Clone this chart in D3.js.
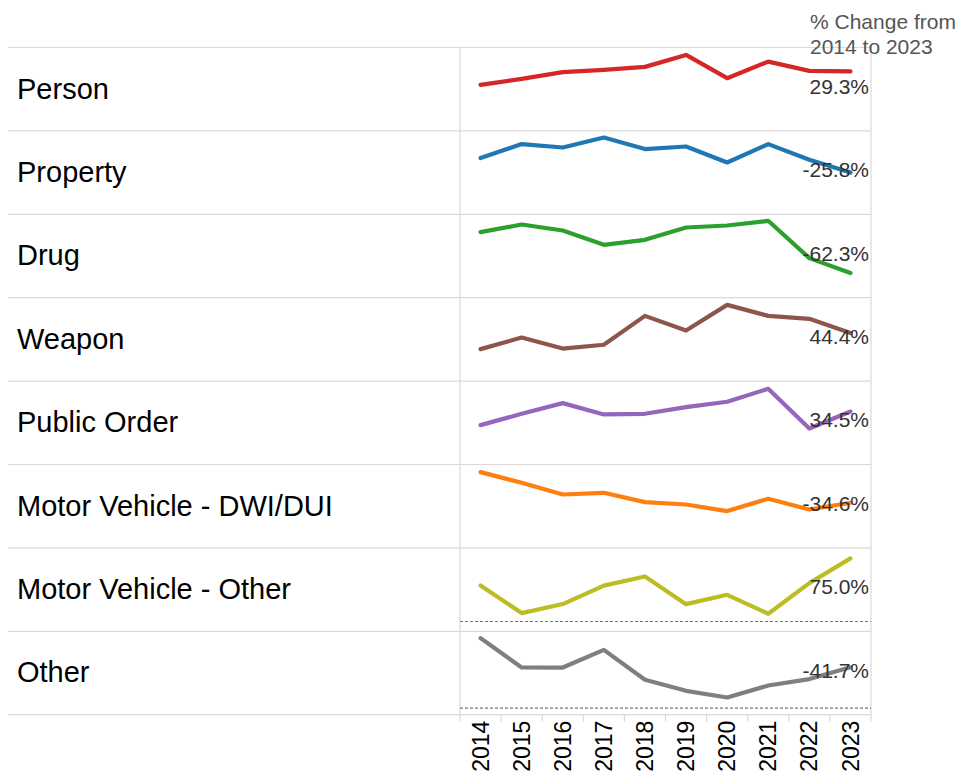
<!DOCTYPE html>
<html>
<head>
<meta charset="utf-8">
<script src="https://d3js.org/d3.v7.min.js"></script>
<style>
body { margin: 0; background: #fff; }
text { font-family: Arial, "Liberation Sans", sans-serif; }
</style>
</head>
<body>
<script>
//data
var years = [2014, 2015, 2016, 2017, 2018, 2019, 2020, 2021, 2022, 2023];

var categories = ["Person", "Property", "Drug", "Weapon", "Public Order",
    "Motor Vehicle - DWI/DUI", "Motor Vehicle - Other", "Other"];

var person      = [11030, 12470, 14080, 14630, 15350, 18220, 12640, 16620, 14390, 14262];
var property    = [26950, 33670, 32040, 36830, 31270, 32520, 24840, 33670, 26140, 19997];
var drug        = [23600, 26330, 24170, 19030, 20830, 25250, 25970, 27660, 14240, 8897];
var weapon      = [2060, 2720, 2090, 2310, 3960, 3120, 4590, 3960, 3790, 2975];
var publicOrder = [4720, 6080, 7360, 6000, 6080, 6880, 7520, 9080, 4320, 6348];
var dwi         = [11050, 9720, 8260, 8470, 7310, 7010, 6190, 7730, 6390, 7227];
var mvOther     = [588, 137, 284, 585, 734, 283, 435, 126, 626, 1029];
var other       = [7290, 4230, 4225, 6070, 2950, 1800, 1100, 2350, 3020, 4250];

var seriesValues = [person, property, drug, weapon, publicOrder, dwi, mvOther, other];

//independent axis range for every row
var axisDomains = [[0, 20000], [0, 40000], [0, 30000], [230, 5000],
    [0, 10000], [1600, 12000], [-160, 1200], [-690, 8000]];

var colors = ["#d62728", "#1f77b4", "#2ca02c", "#8c564b",
    "#9467bd", "#ff7f0e", "#bcbd22", "#7f7f7f"];

//layout
var width = 956, height = 773;
var top0 = 47.5, rowH = 83.4;
var leftEdge = 8, paneLeft = 460, paneRight = 871;
var gridColor = "#d9d9d9";
var bottom = top0 + rowH * categories.length;

var svg = d3.select("body")
    .append("svg")
    .attr("width", width)
    .attr("height", height);

var xScale = d3.scaleBand()
    .domain(years)
    .range([paneLeft, paneRight]);

//row separators
svg.selectAll(".sep")
    .data(d3.range(categories.length + 1))
    .enter()
    .append("line")
    .attr("class", "sep")
    .attr("x1", leftEdge)
    .attr("x2", paneRight)
    .attr("y1", function(d){ return top0 + d * rowH; })
    .attr("y2", function(d){ return top0 + d * rowH; })
    .style("stroke", gridColor)
    .style("stroke-width", 1.2);

//pane borders
svg.selectAll(".vline")
    .data([paneLeft, paneRight])
    .enter()
    .append("line")
    .attr("class", "vline")
    .attr("x1", function(d){ return d; })
    .attr("x2", function(d){ return d; })
    .attr("y1", top0)
    .attr("y2", bottom + 7)
    .style("stroke", gridColor)
    .style("stroke-width", 1.2);

//year ticks at band edges
svg.selectAll(".tick")
    .data(years.slice(1))
    .enter()
    .append("line")
    .attr("class", "tick")
    .attr("x1", function(d){ return xScale(d); })
    .attr("x2", function(d){ return xScale(d); })
    .attr("y1", bottom)
    .attr("y2", bottom + 7)
    .style("stroke", gridColor)
    .style("stroke-width", 1.2);

//year labels
svg.selectAll(".year")
    .data(years)
    .enter()
    .append("text")
    .attr("class", "year")
    .attr("transform", function(d){
        return "translate(" + (xScale(d) + xScale.bandwidth() / 2) + "," + (bottom + 6) + ") rotate(-90)";
    })
    .attr("text-anchor", "end")
    .attr("dy", "0.35em")
    .style("font-size", "23px")
    .style("fill", "#000")
    .text(function(d){ return d; });

//one group per row
var rows = svg.selectAll(".row")
    .data(categories)
    .enter()
    .append("g")
    .attr("class", "row")
    .attr("transform", function(d, i){ return "translate(0," + (top0 + i * rowH) + ")"; });

rows.append("text")
    .attr("x", 17)
    .attr("y", rowH / 2 + 9.3)
    .style("font-size", "29px")
    .style("fill", "#000")
    .text(function(d){ return d; });

rows.each(function(d, i){
    var g = d3.select(this);
    var values = seriesValues[i];
    var yScale = d3.scaleLinear()
        .domain(axisDomains[i])
        .range([rowH, 0]);

    //zero line when it falls inside the row
    if (axisDomains[i][0] < 0) {
        g.append("line")
            .attr("x1", paneLeft)
            .attr("x2", paneRight)
            .attr("y1", yScale(0))
            .attr("y2", yScale(0))
            .style("stroke", "#777")
            .style("stroke-width", 1.2)
            .style("stroke-dasharray", "3,2");
    }

    var line = d3.line()
        .x(function(v, j){ return xScale(years[j]) + xScale.bandwidth() / 2; })
        .y(function(v){ return yScale(v); });

    g.append("path")
        .datum(values)
        .attr("d", line)
        .style("fill", "none")
        .style("stroke", colors[i])
        .style("stroke-width", 4.2)
        .style("stroke-linecap", "round")
        .style("stroke-linejoin", "round");

    //% change from first to last year
    var pct = (values[values.length - 1] / values[0] - 1) * 100;
    g.append("text")
        .attr("x", 869)
        .attr("y", rowH / 2 + 4.6)
        .attr("text-anchor", "end")
        .style("font-size", "21px")
        .style("fill", "#333")
        .text(pct.toFixed(1) + "%");
});

//header
var header = svg.append("text")
    .attr("x", 810)
    .style("font-size", "21px")
    .style("fill", "#555");
header.append("tspan").attr("x", 810).attr("y", 29).text("% Change from");
header.append("tspan").attr("x", 810).attr("y", 54).text("2014 to 2023");
</script>
</body>
</html>
